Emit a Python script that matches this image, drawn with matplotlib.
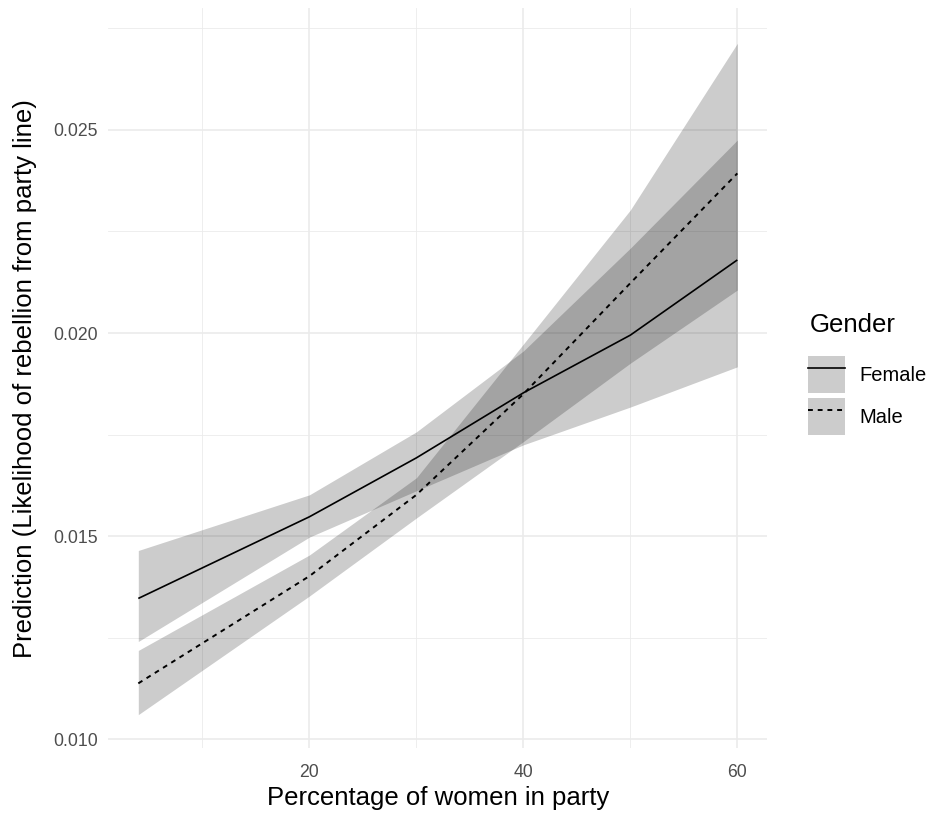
import matplotlib
matplotlib.use("Agg")
import matplotlib.pyplot as plt
from matplotlib.patches import Patch
from matplotlib.lines import Line2D

# predicted values
pct_women = [4, 20, 30, 40, 50, 60]

female_fit = [0.01347, 0.01548, 0.01693, 0.01853, 0.01995, 0.02180]
female_lo = [0.01241, 0.01498, 0.01612, 0.01725, 0.01818, 0.01917]
female_hi = [0.01465, 0.01602, 0.01757, 0.01956, 0.02209, 0.02475]

male_fit = [0.01138, 0.01402, 0.01602, 0.01850, 0.02123, 0.02393]
male_lo = [0.01061, 0.01353, 0.01545, 0.01733, 0.01926, 0.02106]
male_hi = [0.01219, 0.01454, 0.01644, 0.01973, 0.02303, 0.02713]

genders = ["Female", "Male"]

plt.rcParams["font.family"] = ["Liberation Sans", "DejaVu Sans"]

fig = plt.figure(figsize=(9.34, 8.16), dpi=100)
ax = fig.add_axes([0.1160, 0.0830, 0.7055, 0.9068])

ribbon = dict(color="black", alpha=0.2, linewidth=0)
ax.fill_between(pct_women, female_lo, female_hi, **ribbon)
ax.fill_between(pct_women, male_lo, male_hi, **ribbon)
ax.plot(pct_women, female_fit, color="black", lw=1.2, solid_capstyle="butt")
ax.plot(pct_women, male_fit, color="black", lw=1.4, linestyle=(0, (2.5, 2.5)))

ax.set_xlim(1.2, 62.8)
ax.set_ylim(0.009783, 0.027992)
ax.set_xticks([20, 40, 60])
ax.set_xticks([10, 30, 50], minor=True)
ax.set_yticks([0.010, 0.015, 0.020, 0.025])
ax.set_yticks([0.0125, 0.0175, 0.0225, 0.0275], minor=True)
ax.set_yticklabels(["0.010", "0.015", "0.020", "0.025"])

ax.grid(True, which="major", color="#EBEBEB", lw=1.2)
ax.grid(True, which="minor", color="#EBEBEB", lw=0.6)
ax.set_axisbelow(True)
for s in ax.spines.values():
    s.set_visible(False)
ax.tick_params(which="both", length=0, labelsize=12.7, labelcolor="#4D4D4D")
ax.tick_params(axis="x", pad=11)
ax.tick_params(axis="y", pad=7.5)

ax.set_xlabel("Percentage of women in party", fontsize=18.5, labelpad=4)
ax.set_ylabel("Prediction (Likelihood of rebellion from party line)", fontsize=18.5, labelpad=11.5)

# legend: title drawn separately to get ggplot-like spacing
fig.text(810 / 934, 1 - 325 / 816, "Gender", fontsize=18.5, ha="left", va="center")
handles = [
    (Patch(facecolor="#CCCCCC", edgecolor="none"), Line2D([], [], color="black", lw=1.2)),
    (Patch(facecolor="#CCCCCC", edgecolor="none"),
     Line2D([], [], color="black", lw=1.4, linestyle=(0, (2.5, 2.5)))),
]
leg = fig.legend(handles, genders, loc="center left",
                 bbox_to_anchor=(808 / 934, 1 - 395.5 / 816), frameon=False,
                 fontsize=14.5, handlelength=1.84, handleheight=2.45,
                 labelspacing=0.25, handletextpad=0.7, borderpad=0,
                 borderaxespad=0)

fig.savefig("out.png", dpi=100)
